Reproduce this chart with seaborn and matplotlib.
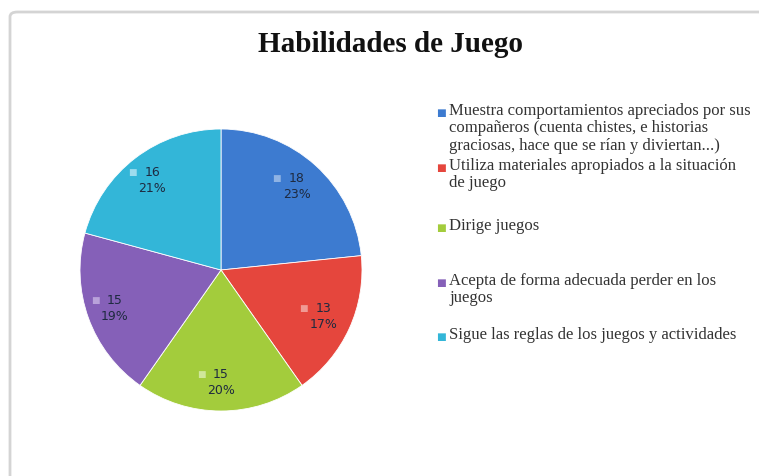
import matplotlib
matplotlib.use("Agg")
import matplotlib.pyplot as plt
import seaborn as sns
from matplotlib.patches import FancyBboxPatch
from matplotlib.transforms import offset_copy
import numpy as np

# ---- data ----
categories = [
    "Muestra comportamientos apreciados por sus\ncompañeros (cuenta chistes, e historias\ngraciosas, hace que se rían y diviertan...)",
    "Utiliza materiales apropiados a la situación\nde juego",
    "Dirige juegos",
    "Acepta de forma adecuada perder en los\njuegos",
    "Sigue las reglas de los juegos y actividades",
]
values = [18, 13, 15, 15, 16]
percent_labels = ["23%", "17%", "20%", "19%", "21%"]
title = "Habilidades de Juego"

colors = ["#3d7bd0", "#e5463d", "#a3cc3c", "#8560b8", "#33b6d8"]
marker_colors = ["#8fb3e4", "#f09a94", "#d0e79a", "#b9a2da", "#9ddcee"]

sns.set_theme(style="white")
plt.rcParams["font.family"] = ["DejaVu Sans"]

W, H = 759, 476
fig = plt.figure(figsize=(W / 100, H / 100), dpi=100)
fig.patch.set_facecolor("white")

# chart border
border = FancyBboxPatch((10 / W, -0.05), 1.2, 1.05 - 12 / H,
                        boxstyle="round,pad=0,rounding_size=0.01",
                        transform=fig.transFigure, fill=False,
                        edgecolor="#d4d4d4", linewidth=2.0)
fig.patches.append(border)

# pie axes: center (221,270), radius 141
cx, cy, r = 221, 270, 141
ax = fig.add_axes([(cx - r) / W, (H - cy - r) / H, 2 * r / W, 2 * r / H])
wedges, _ = ax.pie(values, colors=colors, startangle=90, counterclock=False,
                   radius=1.0, wedgeprops=dict(edgecolor="#ffffff", linewidth=0.6))
ax.set_xlim(-1, 1)
ax.set_ylim(-1, 1)
ax.set_aspect("equal")
ax.axis("off")

label_r = 0.8
for w, v, p, mc in zip(wedges, values, percent_labels, marker_colors):
    ang = np.deg2rad((w.theta1 + w.theta2) / 2)
    x, y = label_r * np.cos(ang), label_r * np.sin(ang)
    ax.text(x, y, f"{v}\n{p}", ha="center", va="center", fontsize=9,
            color="#1e2a40", linespacing=1.3, family=["DejaVu Sans"])
    tr = offset_copy(ax.transData, fig=fig, x=-20, y=8, units="dots")
    ax.text(x, y, "■", transform=tr, ha="center", va="center",
            fontsize=6.5, color=mc)

# title
fig.text(391 / W, 1 - 44 / H, title, ha="center", va="center",
         fontsize=21, fontweight="bold", color="#111111",
         family=["Liberation Serif"])

# legend (manual, Excel-like spacing)
legend_first_line_y = [113, 168, 228, 283, 337]
for lab, col, ly in zip(categories, colors, legend_first_line_y):
    fig.text(441 / W, 1 - ly / H, "■", ha="center", va="center",
             fontsize=7.5, color=col)
    fig.text(449 / W, 1 - (ly - 10) / H, lab, ha="left", va="top",
             fontsize=12, color="#333333", linespacing=1.12,
             family=["Liberation Serif"])

fig.savefig("out.png", dpi=100, facecolor="white")
